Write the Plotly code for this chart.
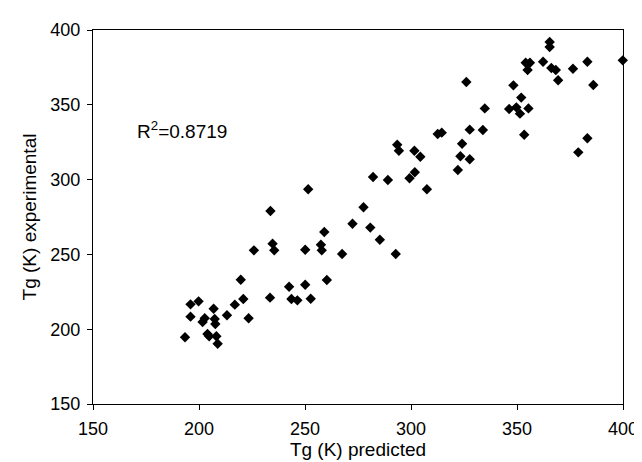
import plotly.graph_objects as go

# predicted vs experimental Tg (K)
tg_predicted = [
    225.9, 235.5, 250.1, 257.9, 219.7, 242.5, 250.1, 260.3, 233.5, 243.6,
    246.4, 252.7, 196.0, 199.8, 206.9, 216.9, 220.9, 196.0, 202.7, 201.7,
    207.4, 207.7, 213.2, 223.4, 193.4, 204.0, 204.8, 208.2, 208.8, 251.5,
    233.7, 259.1, 234.7, 257.5, 267.5, 292.8, 293.5, 294.3, 301.6, 304.4,
    324.1, 323.3, 327.7, 322.1, 282.1, 289.1, 301.8, 299.3, 307.5, 277.6,
    272.4, 280.8, 285.3, 326.1, 312.6, 314.5, 327.7, 365.4, 365.4, 354.1,
    356.1, 355.0, 362.3, 366.2, 368.3, 369.4, 376.4, 383.2, 399.9, 386.0,
    348.3, 352.0, 346.3, 349.7, 351.4, 355.4, 334.8, 333.9, 353.4, 383.2,
    378.9,
]
tg_experimental = [
    252.7, 252.7, 253.1, 252.7, 233.1, 228.4, 229.7, 232.9, 221.1, 220.2,
    219.3, 220.4, 216.6, 218.6, 213.7, 216.4, 220.2, 208.4, 207.3, 204.8,
    206.8, 203.5, 209.3, 207.3, 194.6, 196.8, 195.3, 195.3, 190.3, 293.5,
    279.0, 265.0, 257.2, 256.5, 250.3, 250.3, 323.3, 319.3, 319.3, 315.3,
    324.0, 315.6, 313.6, 306.4, 301.7, 299.7, 304.9, 300.9, 293.5, 281.5,
    270.5, 267.9, 259.8, 365.2, 330.5, 331.4, 333.4, 392.0, 388.6, 378.1,
    378.1, 373.3, 378.8, 374.6, 373.3, 366.4, 374.1, 378.8, 379.7, 363.2,
    363.0, 354.8, 347.2, 348.3, 344.1, 347.6, 347.6, 333.2, 330.0, 327.6,
    318.2,
]
tick_vals = [150, 200, 250, 300, 350, 400]

font = "Liberation Sans, Arial, sans-serif"

fig = go.Figure()
fig.add_trace(go.Scatter(
    x=tg_predicted, y=tg_experimental, mode="markers",
    marker=dict(symbol="diamond", size=8, color="black"),
    cliponaxis=False, showlegend=False,
))

fig.add_annotation(
    x=170, y=333, xref="x", yref="y", xanchor="left", yanchor="middle",
    text="R<sup>2</sup>=0.8719", showarrow=False,
    font=dict(family=font, size=19, color="black"),
)

axis_style = dict(
    range=[150, 400], tickvals=tick_vals, showgrid=False, zeroline=False,
    showline=True, linecolor="black", linewidth=1, mirror=True,
    ticks="outside", ticklen=5, tickcolor="black",
    tickfont=dict(family=font, size=18, color="black"),
)

fig.update_layout(
    width=642, height=462,
    margin=dict(l=85, r=20, t=22, b=66),
    plot_bgcolor="white", paper_bgcolor="white",
    xaxis=dict(title=dict(text="Tg (K) predicted", font=dict(family=font, size=19, color="black"), standoff=1),
               ticklabelstandoff=3, **axis_style),
    yaxis=dict(title=dict(text="Tg (K) experimental", font=dict(family=font, size=19, color="black"), standoff=8),
               ticklabelstandoff=3, **axis_style),
)

fig.write_html("out.html")
